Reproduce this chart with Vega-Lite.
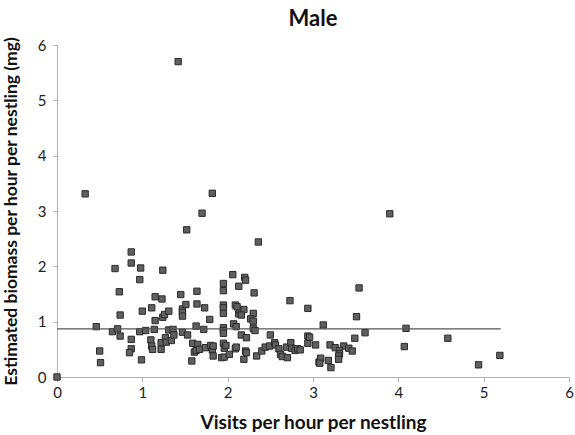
{
  "$schema": "https://vega.github.io/schema/vega-lite/v6.json",
  "width": 512,
  "height": 332,
  "autosize": "none",
  "padding": {"left": 57, "top": 45, "right": 6, "bottom": 58},
  "background": "white",
  "config": {"view": {"stroke": null}, "font": "Lato"},
  "title": {"text": "Male", "font": "Lato", "fontSize": 22, "fontWeight": "bold", "color": "#111", "anchor": "middle", "offset": 5},
  "datasets": {
    "pts": [
      {"x":0,"y":0},{"x":0.46,"y":0.91},{"x":0.5,"y":0.47},{"x":0.51,"y":0.26},{"x":0.65,"y":0.82},{"x":0.68,"y":1.96},{"x":0.71,"y":0.87},{"x":0.73,"y":1.54},{"x":0.74,"y":1.12},{"x":0.74,"y":0.74},
      {"x":0.87,"y":2.26},{"x":0.87,"y":2.06},{"x":0.87,"y":0.68},{"x":0.87,"y":0.51},{"x":0.85,"y":0.44},{"x":0.98,"y":1.97},{"x":0.97,"y":1.76},{"x":1.0,"y":1.19},{"x":0.97,"y":0.82},{"x":0.99,"y":0.31},
      {"x":1.04,"y":0.84},{"x":1.11,"y":1.25},{"x":1.1,"y":0.67},{"x":1.11,"y":0.56},{"x":1.12,"y":0.5},{"x":1.15,"y":1.45},{"x":1.15,"y":1.02},{"x":1.14,"y":0.86},{"x":1.24,"y":1.93},{"x":1.23,"y":1.41},
      {"x":1.24,"y":1.08},{"x":1.26,"y":1.13},{"x":1.22,"y":0.62},{"x":1.22,"y":0.5},{"x":1.27,"y":0.71},{"x":1.28,"y":0.63},{"x":1.31,"y":1.19},{"x":1.31,"y":0.85},{"x":1.34,"y":0.66},{"x":1.36,"y":0.86},
      {"x":1.37,"y":0.76},{"x":1.45,"y":1.49},{"x":1.47,"y":1.23},{"x":1.47,"y":1.17},{"x":1.47,"y":1.1},{"x":1.47,"y":0.81},{"x":1.51,"y":1.31},{"x":1.52,"y":2.66},{"x":1.53,"y":0.76},{"x":1.59,"y":0.61},
      {"x":1.58,"y":0.29},{"x":1.61,"y":0.45},{"x":1.63,"y":0.48},{"x":1.64,"y":1.55},{"x":1.64,"y":1.32},{"x":1.63,"y":0.92},{"x":1.65,"y":0.59},{"x":1.67,"y":0.5},{"x":1.7,"y":2.96},{"x":1.72,"y":0.86},
      {"x":1.73,"y":1.25},{"x":1.74,"y":0.53},{"x":1.79,"y":1.04},{"x":1.8,"y":0.57},{"x":1.82,"y":0.49},{"x":1.83,"y":0.38},{"x":1.83,"y":0.56},{"x":1.93,"y":0.35},{"x":1.95,"y":0.89},{"x":1.96,"y":0.36},
      {"x":1.95,"y":1.69},{"x":1.95,"y":1.56},{"x":1.95,"y":1.3},{"x":1.95,"y":1.25},{"x":1.95,"y":1.15},{"x":1.95,"y":0.84},{"x":1.95,"y":0.79},{"x":1.95,"y":0.61},{"x":1.96,"y":0.52},{"x":1.98,"y":0.57},
      {"x":2.02,"y":0.41},{"x":2.06,"y":1.85},{"x":2.07,"y":0.96},{"x":2.1,"y":0.91},{"x":2.09,"y":1.3},{"x":2.09,"y":0.51},{"x":2.1,"y":0.54},{"x":2.13,"y":1.64},{"x":2.13,"y":1.14},{"x":2.14,"y":1.21},
      {"x":2.16,"y":0.76},{"x":2.19,"y":0.32},{"x":2.2,"y":1.8},{"x":2.21,"y":1.75},{"x":2.19,"y":1.22},{"x":2.22,"y":0.71},{"x":2.21,"y":0.47},{"x":2.22,"y":0.44},{"x":2.31,"y":1.52},{"x":2.3,"y":1.15},
      {"x":2.27,"y":1.05},{"x":2.3,"y":1.01},{"x":2.3,"y":0.88},{"x":2.32,"y":0.84},{"x":2.34,"y":0.38},{"x":2.36,"y":2.44},{"x":2.4,"y":0.47},{"x":2.44,"y":0.54},{"x":2.5,"y":0.76},{"x":2.49,"y":0.56},
      {"x":2.55,"y":0.62},{"x":2.56,"y":0.58},{"x":2.6,"y":0.51},{"x":2.62,"y":0.41},{"x":2.64,"y":0.37},{"x":2.69,"y":0.54},{"x":2.7,"y":0.35},{"x":2.73,"y":1.38},{"x":2.74,"y":0.62},{"x":2.75,"y":0.52},
      {"x":2.79,"y":0.48},{"x":2.82,"y":0.51},{"x":2.85,"y":0.49},{"x":2.94,"y":1.24},{"x":2.94,"y":0.74},{"x":2.94,"y":0.61},{"x":2.96,"y":0.72},{"x":2.11,"y":1.27},{"x":2.16,"y":1.12},{"x":3.07,"y":0.27},
      {"x":1.42,"y":5.7},{"x":0.33,"y":3.31},{"x":1.82,"y":3.32},
      {"x":3.9,"y":2.95},{"x":3.54,"y":1.61},{"x":3.51,"y":1.09},{"x":3.12,"y":0.94},{"x":4.09,"y":0.88},{"x":3.61,"y":0.8},{"x":3.49,"y":0.7},{"x":4.58,"y":0.7},{"x":3.03,"y":0.58},{"x":4.07,"y":0.55},
      {"x":3.2,"y":0.58},{"x":3.26,"y":0.53},{"x":3.36,"y":0.56},{"x":3.42,"y":0.52},{"x":3.46,"y":0.47},{"x":3.31,"y":0.48},{"x":3.31,"y":0.42},{"x":3.3,"y":0.38},{"x":3.09,"y":0.34},{"x":3.08,"y":0.25},
      {"x":3.18,"y":0.3},{"x":3.3,"y":0.32},{"x":3.21,"y":0.17},{"x":5.19,"y":0.39},{"x":4.94,"y":0.22}
    ],
    "trend": [{"x":0,"y":0.87},{"x":5.2,"y":0.87}]
  },
  "layer": [
    {
      "data": {"name": "pts"},
      "mark": {"type": "point", "shape": "square", "filled": true, "size": 40, "fill": "#606060", "stroke": "#2a2a2a", "strokeWidth": 1, "opacity": 1},
      "encoding": {
        "x": {"field": "x", "type": "quantitative", "scale": {"domain": [0, 6], "nice": false, "zero": false},
          "axis": {"title": "Visits per hour per nestling", "values": [0,1,2,3,4,5,6], "format": "d", "labelFlush": false, "grid": false, "domainColor": "#b0b0b0", "tickColor": "#b0b0b0", "tickSize": 5, "labelFont": "Lato", "labelFontSize": 15, "labelColor": "#222", "labelPadding": 3, "titleFont": "Lato", "titleFontSize": 19, "titleFontWeight": "bold", "titleColor": "#111", "titlePadding": 13}},
        "y": {"field": "y", "type": "quantitative", "scale": {"domain": [0, 6], "nice": false},
          "axis": {"title": "Estimated biomass per hour per nestling (mg)", "values": [0,1,2,3,4,5,6], "format": "d", "labelFlush": false, "grid": false, "domainColor": "#b0b0b0", "tickColor": "#b0b0b0", "tickSize": 4, "labelFont": "Lato", "labelFontSize": 15, "labelColor": "#222", "labelPadding": 7, "titleFont": "Lato", "titleFontSize": 17.5, "titleFontWeight": "bold", "titleColor": "#111", "titlePadding": 17}}
      }
    },
    {
      "data": {"name": "trend"},
      "mark": {"type": "line", "color": "#555", "strokeWidth": 1.2},
      "encoding": {
        "x": {"field": "x", "type": "quantitative"},
        "y": {"field": "y", "type": "quantitative"}
      }
    }
  ]
}
